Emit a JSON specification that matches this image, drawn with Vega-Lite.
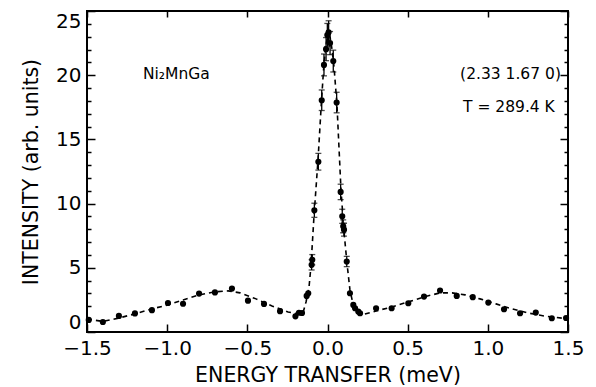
{
  "$schema": "https://vega.github.io/schema/vega-lite/v6.json",
  "width": 481,
  "height": 321,
  "autosize": "none",
  "padding": {"left": 87, "top": 11, "right": 28, "bottom": 55},
  "config": {
    "view": {"stroke": "black", "strokeWidth": 2},
    "font": "DejaVu Sans",
    "axis": {
      "grid": false,
      "domain": false,
      "tickColor": "black",
      "tickWidth": 1.5,
      "labelColor": "black",
      "titleColor": "black",
      "labelFont": "DejaVu Sans",
      "titleFont": "DejaVu Sans",
      "labelFontSize": 20,
      "titleFontSize": 20.5,
      "titleFontWeight": "normal"
    }
  },
  "datasets": {
    "fit": [
      {"e": -1.5, "i": 1.02}, {"e": -1.401, "i": 0.82}, {"e": -1.301, "i": 1.09}, {"e": -1.201, "i": 1.41},
      {"e": -1.095, "i": 1.8}, {"e": -0.995, "i": 2.11}, {"e": -0.901, "i": 2.5}, {"e": -0.801, "i": 2.89},
      {"e": -0.702, "i": 3.13}, {"e": -0.62, "i": 3.2}, {"e": -0.546, "i": 3.05}, {"e": -0.446, "i": 2.58},
      {"e": -0.346, "i": 2.03}, {"e": -0.246, "i": 1.56}, {"e": -0.184, "i": 1.41}, {"e": -0.153, "i": 1.48},
      {"e": -0.134, "i": 2.34}, {"e": -0.115, "i": 3.52}, {"e": -0.103, "i": 5.16}, {"e": -0.084, "i": 9.06},
      {"e": -0.059, "i": 13.44}, {"e": -0.037, "i": 18.1}, {"e": -0.022, "i": 20.9}, {"e": -0.009, "i": 22.4},
      {"e": 0.003, "i": 23.1}, {"e": 0.016, "i": 22.97}, {"e": 0.028, "i": 22.03}, {"e": 0.041, "i": 20.6},
      {"e": 0.059, "i": 17.7}, {"e": 0.084, "i": 11.1}, {"e": 0.103, "i": 7.8}, {"e": 0.122, "i": 5.3},
      {"e": 0.14, "i": 3.28}, {"e": 0.159, "i": 2.19}, {"e": 0.184, "i": 1.56}, {"e": 0.215, "i": 1.33},
      {"e": 0.303, "i": 1.64}, {"e": 0.402, "i": 1.95}, {"e": 0.502, "i": 2.34}, {"e": 0.602, "i": 2.73},
      {"e": 0.702, "i": 3.05}, {"e": 0.777, "i": 3.05}, {"e": 0.858, "i": 2.89}, {"e": 0.951, "i": 2.58},
      {"e": 1.051, "i": 2.19}, {"e": 1.151, "i": 1.8}, {"e": 1.251, "i": 1.48}, {"e": 1.351, "i": 1.25},
      {"e": 1.5, "i": 1.02}
    ],
    "pts": [
      {"e": -1.489, "i": 0.94}, {"e": -1.401, "i": 0.78}, {"e": -1.301, "i": 1.25}, {"e": -1.201, "i": 1.45},
      {"e": -1.095, "i": 1.7}, {"e": -0.995, "i": 2.26}, {"e": -0.901, "i": 2.2}, {"e": -0.801, "i": 2.99},
      {"e": -0.702, "i": 3.08}, {"e": -0.596, "i": 3.38}, {"e": -0.496, "i": 2.44}, {"e": -0.396, "i": 2.19},
      {"e": -0.296, "i": 1.62}, {"e": -0.2, "i": 1.22}, {"e": -0.178, "i": 1.5}, {"e": -0.159, "i": 1.48},
      {"e": -0.13, "i": 2.81}, {"e": -0.12, "i": 3.02}, {"e": -0.099, "i": 5.23}, {"e": -0.095, "i": 5.63},
      {"e": -0.082, "i": 9.48}, {"e": -0.057, "i": 13.26}, {"e": -0.036, "i": 18.05}, {"e": -0.022, "i": 20.8},
      {"e": -0.009, "i": 22.03}, {"e": -0.001, "i": 23.13}, {"e": 0.007, "i": 23.34}, {"e": 0.016, "i": 22.5},
      {"e": 0.036, "i": 21.1}, {"e": 0.057, "i": 17.87}, {"e": 0.082, "i": 10.91}, {"e": 0.092, "i": 9.01},
      {"e": 0.098, "i": 8.23}, {"e": 0.103, "i": 7.97}, {"e": 0.12, "i": 5.49}, {"e": 0.14, "i": 3.02},
      {"e": 0.161, "i": 2.11}, {"e": 0.172, "i": 1.85}, {"e": 0.192, "i": 1.59}, {"e": 0.203, "i": 1.46},
      {"e": 0.303, "i": 1.85}, {"e": 0.4, "i": 1.85}, {"e": 0.504, "i": 2.24}, {"e": 0.602, "i": 2.76},
      {"e": 0.702, "i": 3.23}, {"e": 0.806, "i": 2.81}, {"e": 0.906, "i": 2.71}, {"e": 1.003, "i": 2.29},
      {"e": 1.101, "i": 1.77}, {"e": 1.201, "i": 1.46}, {"e": 1.299, "i": 1.51}, {"e": 1.399, "i": 1.07},
      {"e": 1.488, "i": 1.09}
    ],
    "bars": [
      {"e": -0.099, "lo": 4.83, "hi": 5.63}, {"e": -0.095, "lo": 5.23, "hi": 6.03},
      {"e": -0.082, "lo": 8.93, "hi": 10.03}, {"e": -0.057, "lo": 12.61, "hi": 13.91},
      {"e": -0.036, "lo": 17.25, "hi": 18.85}, {"e": -0.022, "lo": 19.95, "hi": 21.65},
      {"e": -0.009, "lo": 21.13, "hi": 22.93}, {"e": -0.001, "lo": 22.23, "hi": 24.03},
      {"e": 0.007, "lo": 22.44, "hi": 24.24}, {"e": 0.016, "lo": 21.6, "hi": 23.4},
      {"e": 0.036, "lo": 20.25, "hi": 21.95}, {"e": 0.057, "lo": 17.07, "hi": 18.67},
      {"e": 0.082, "lo": 10.31, "hi": 11.51}, {"e": 0.092, "lo": 8.46, "hi": 9.56},
      {"e": 0.098, "lo": 7.73, "hi": 8.73}, {"e": 0.103, "lo": 7.47, "hi": 8.47},
      {"e": 0.12, "lo": 5.09, "hi": 5.89}
    ],
    "notes": [
      {"e": -1.151, "i": 20.1, "t": "Ni₂MnGa"},
      {"e": 0.827, "i": 20.1, "t": "(2.33 1.67 0)"},
      {"e": 0.845, "i": 17.5, "t": "T = 289.4 K"}
    ]
  },
  "layer": [
    {
      "data": {"name": "fit"},
      "mark": {"type": "line", "color": "black", "strokeDash": [5, 4], "strokeWidth": 1.6, "clip": true},
      "encoding": {
        "x": {
          "field": "e", "type": "quantitative",
          "scale": {"domain": [-1.5, 1.5], "nice": false, "zero": false},
          "axis": {
            "orient": "bottom",
            "values": [-1.5, -1, -0.5, 0, 0.5, 1, 1.5],
            "format": ".1f",
            "tickSize": -8,
            "labelPadding": 14,
            "labelFlush": false,
            "title": "ENERGY TRANSFER (meV)",
            "titlePadding": 7
          }
        },
        "y": {
          "field": "i", "type": "quantitative",
          "scale": {"domain": [0, 25], "nice": false},
          "axis": {
            "orient": "left",
            "values": [0,1,2,3,4,5,6,7,8,9,10,11,12,13,14,15,16,17,18,19,20,21,22,23,24,25],
            "labelExpr": "datum.value % 5 === 0 ? datum.label : ''",
            "tickSize": {"condition": {"test": "datum.value % 5 === 0", "value": -8}, "value": -4},
            "labelPadding": 14,
            "labelFlush": true,
            "title": "INTENSITY (arb. units)",
            "titlePadding": 14
          }
        }
      }
    },
    {
      "data": {"name": "bars"},
      "mark": {"type": "rule", "color": "black", "strokeWidth": 1.3},
      "encoding": {
        "x": {
          "field": "e", "type": "quantitative",
          "axis": {
            "orient": "top",
            "values": [-1.5, -1, -0.5, 0, 0.5, 1, 1.5],
            "labels": false,
            "tickSize": -6,
            "title": null
          }
        },
        "y": {
          "field": "lo", "type": "quantitative",
          "axis": {
            "orient": "right",
            "values": [0,1,2,3,4,5,6,7,8,9,10,11,12,13,14,15,16,17,18,19,20,21,22,23,24,25],
            "labels": false,
            "tickSize": {"condition": {"test": "datum.value % 5 === 0", "value": -8}, "value": -4},
            "title": null
          }
        },
        "y2": {"field": "hi"}
      }
    },
    {
      "data": {"name": "bars"},
      "mark": {"type": "tick", "color": "black", "orient": "horizontal", "size": 6, "thickness": 1.3},
      "encoding": {
        "x": {"field": "e", "type": "quantitative", "axis": null},
        "y": {"field": "hi", "type": "quantitative", "axis": null}
      }
    },
    {
      "data": {"name": "bars"},
      "mark": {"type": "tick", "color": "black", "orient": "horizontal", "size": 6, "thickness": 1.3},
      "encoding": {
        "x": {"field": "e", "type": "quantitative", "axis": null},
        "y": {"field": "lo", "type": "quantitative", "axis": null}
      }
    },
    {
      "data": {"name": "pts"},
      "mark": {"type": "circle", "color": "black", "opacity": 1, "size": 38},
      "encoding": {
        "x": {"field": "e", "type": "quantitative", "axis": null},
        "y": {"field": "i", "type": "quantitative", "axis": null}
      }
    },
    {
      "data": {"name": "notes"},
      "mark": {"type": "text", "color": "black", "align": "left", "baseline": "middle", "fontSize": 15.5, "font": "DejaVu Sans"},
      "encoding": {
        "x": {"field": "e", "type": "quantitative", "axis": null},
        "y": {"field": "i", "type": "quantitative", "axis": null},
        "text": {"field": "t"}
      }
    }
  ],
  "resolve": {"axis": {"x": "independent", "y": "independent"}}
}
